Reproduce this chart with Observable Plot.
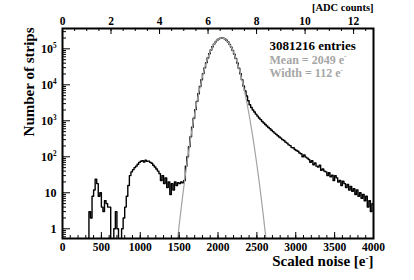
<!DOCTYPE html>
<html><head><meta charset="utf-8">
<script src="https://cdn.jsdelivr.net/npm/d3@7"></script>
<script src="https://cdn.jsdelivr.net/npm/@observablehq/plot@0.6"></script>
<style>body{margin:0;background:#fff}</style>
</head><body><div id="chart"></div>
<script>
// ---- data ----
const binWidth = 20;
const lowStart = 340;
const lowCounts = [3,2,8,12,24,18,8,10,4,3, 6,5,4,4,0,0,1,3,1,0, 0,1,2,4,8,16,30,38,44,50,
  55,62,70,75,78,72,80,75,76,70, 66,58,52,46,40,34,22,30,18,26, 14,20,9,18,12,20,16,19,18,20, 19,22];
const peakStart = 1580;
const peakCounts = [55,100,190,360,660,1180,2050,3460,5670,8980,
  13800,20500,29600,41300,55800,73000,92600,113700,135300,155900,
  174100,188200,197100,200000,196500,187000,172400,154000,133200,111600,
  90500,71200,54200,40500,29000,20300,13900,9300];
const tailStart = 2340;
const tailCounts = [6800,4900,3600,2800,2350,2000,1750,1530,1350,1200,1080,960,870,790,720,650,600,545,500,455,420,385,355,330,
  300,285,255,240,215,205,180,178,160,150,142,128,122,100,112,98,92,84,70,78,60,68,55,52,58,42,46,40,38,30,36,28,31,22,30,26,
  20,22,16,21,18,14,17,12,15,11,13,9,12,8,10,7,9,6,8,4,6,3,5];
const gaussX = [1475,1500,1525,1550,1575,1600,1625,1650,1675,1700,1725,1750,1775,1800,1825,1850,1875,1900,1925,1950,1975,2000,2025,2050,
  2075,2100,2125,2150,2175,2200,2225,2250,2275,2300,2325,2350,2375,2400,2425,2450,2475,2500,2525,2550,2575,2600,2625];
const gaussY = [0.40,1.21,3.53,9.79,25.8,64.8,154,351,758,1558,3048,5670,10030,16900,27070,41260,59830,82560,108360,135320,160780,181740,195460,200000,
  194680,180300,158880,133180,106220,80600,58180,39960,26120,16240,9600,5400,2890,1474,714,329,144,60.2,23.9,9.04,3.25,1.11,0.36];
const xTickValues = [0,500,1000,1500,2000,2500,3000,3500,4000];
const adcTickValues = [0,2,4,6,8,10,12];
const electronsPerAdc = 312;
const yTickValues = [1,10,100,1000,10000,100000];
const yTickLabels = ["1","10","10^2","10^3","10^4","10^5"];
const entriesText = "3081216 entries";
const meanText = "Mean = 2049 e^-";
const widthText = "Width = 112 e^-";
const xTitle = "Scaled noise [e^-]";
const yTitle = "Number of strips";
const topTitle = "[ADC counts]";

// ---- build ----
const W = 414, H = 280, mL = 62, mR = 41, mT = 28, mB = 42;
const fw = W - mL - mR, fh = H - mT - mB;

const hist = [{x: 0, n: 0}, {x: lowStart, n: 0}];
function addSeg(start, arr) {
  arr.forEach((n, i) => { const x0 = start + i * binWidth; hist.push({x: x0, n}, {x: x0 + binWidth, n}); });
}
addSeg(lowStart, lowCounts); addSeg(peakStart, peakCounts); addSeg(tailStart, tailCounts);
const gauss = gaussX.map((x, i) => ({x, y: gaussY[i]}));

const xMinor = d3.range(0, 4001, 100);
const adcMinor = d3.range(0, 12.8, 0.5).map(a => a * electronsPerAdc);
const yMinor = [];
for (let k = -1; k <= 5; k++) for (let m = 2; m <= 9; m++) { const v = m * 10 ** k; if (v > 0.537 && v < 3.67e5) yMinor.push(v); }

const chart = Plot.plot({
  width: W, height: H,
  marginLeft: mL, marginRight: mR, marginTop: mT, marginBottom: mB,
  style: {fontFamily: "'Liberation Serif', 'Times New Roman', serif", fontWeight: "bold", fontSize: "11px", background: "white", color: "black"},
  x: {domain: [0, 4000], axis: null},
  y: {type: "log", domain: [0.537, 3.67e5], axis: null},
  marks: [
    Plot.line(hist, {x: "x", y: d => Math.max(d.n, 0.1), stroke: "black", strokeWidth: 1.4, clip: true}),
    Plot.line(gauss, {x: "x", y: "y", stroke: "#a3a3a3", strokeWidth: 1.2, curve: "monotone-x", clip: true}),
    // ticks bottom
    Plot.tickX(xMinor, {x: d => d, insetTop: fh - 3, stroke: "black"}),
    Plot.tickX(xTickValues, {x: d => d, insetTop: fh - 6, stroke: "black"}),
    // ticks top (ADC)
    Plot.tickX(adcMinor, {x: d => d, insetBottom: fh - 3, stroke: "black"}),
    Plot.tickX(adcTickValues, {x: d => d * electronsPerAdc, insetBottom: fh - 6, stroke: "black"}),
    // ticks left
    Plot.tickY(yMinor, {y: d => d, insetRight: fw - 4, stroke: "black"}),
    Plot.tickY(yTickValues, {y: d => d, insetRight: fw - 8, stroke: "black"}),
    Plot.frame({stroke: "black", strokeWidth: 2}),
    // tick labels
    Plot.text(xTickValues, {x: d => d, text: d => String(d), frameAnchor: "bottom", dy: 12, lineAnchor: "bottom", fontSize: 11.5}),
    Plot.text(adcTickValues, {x: d => d * electronsPerAdc, text: d => String(d), frameAnchor: "top", dy: -4, lineAnchor: "bottom", fontSize: 11.5}),
    Plot.text(yTickValues, {y: d => d, text: (d, i) => yTickLabels[i], frameAnchor: "left", dx: -6, textAnchor: "end", lineAnchor: "middle", fontSize: 12}),
    // titles
    Plot.text([xTitle], {frameAnchor: "bottom-right", dy: 27, textAnchor: "end", lineAnchor: "bottom", fontSize: 15}),
    Plot.text([yTitle], {frameAnchor: "top-left", dx: -29, dy: -1, rotate: -90, textAnchor: "end", lineAnchor: "bottom", fontSize: 15}),
    Plot.text([topTitle], {frameAnchor: "top-right", dy: -18, textAnchor: "end", lineAnchor: "bottom", fontSize: 10.5}),
    // legend
    Plot.text([entriesText], {frameAnchor: "top-left", dx: 207, dy: 21, textAnchor: "start", lineAnchor: "bottom", fontSize: 13, fill: "black"}),
    Plot.text([meanText], {frameAnchor: "top-left", dx: 207, dy: 35, textAnchor: "start", lineAnchor: "bottom", fontSize: 12, fill: "#a6a6a6"}),
    Plot.text([widthText], {frameAnchor: "top-left", dx: 207, dy: 48.5, textAnchor: "start", lineAnchor: "bottom", fontSize: 12, fill: "#a6a6a6"})
  ]
});

// superscripts: "a^b" -> a<sup>b</sup>
const NS = "http://www.w3.org/2000/svg";
chart.querySelectorAll("text").forEach(t => {
  const s = t.textContent;
  const m = s.match(/^(.*?)\^(.)(.*)$/);
  if (!m) return;
  while (t.firstChild) t.removeChild(t.firstChild);
  const a = document.createElementNS(NS, "tspan"); a.textContent = m[1];
  const b = document.createElementNS(NS, "tspan"); b.textContent = m[2];
  b.setAttribute("dy", "-4.5"); b.setAttribute("font-size", "0.6em");
  t.appendChild(a); t.appendChild(b);
  if (m[3]) { const c = document.createElementNS(NS, "tspan"); c.textContent = m[3]; c.setAttribute("dy", "4.5"); t.appendChild(c); }
});
document.getElementById("chart").appendChild(chart);
</script></body></html>
